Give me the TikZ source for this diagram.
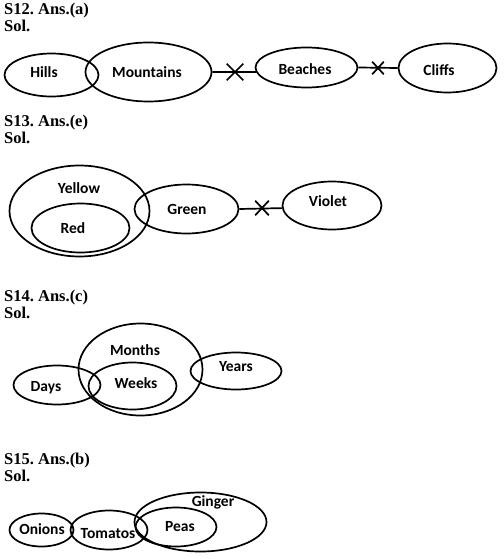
\documentclass[tikz,border=0pt]{standalone}
\usepackage{fontspec}
\setmainfont{Liberation Serif}
\newfontfamily\lblfont{Carlito}
\usetikzlibrary{shapes.geometric,shapes.misc}
\frenchspacing
\begin{document}
\begin{tikzpicture}[x=1pt,y=-1pt,
  ell/.style={draw, ellipse, line width=1.7pt, inner sep=0pt},
  lab/.style={font=\lblfont\bfseries\fontsize{15.5}{17}\selectfont, inner sep=0pt},
  head/.style={font=\bfseries\fontsize{16.5}{18}\selectfont, anchor=base west, inner sep=0pt},
  xm/.style={draw, cross out, line width=1.7pt, inner sep=0pt},
  conn/.style={line width=1.7pt}]
\useasboundingbox (0,0) rectangle (503,559);

% ---------- S12 ----------
\node[head] (h12) at (4,14.5) {S12. Ans.(a)};
\node[head] (s12) at (4,31.5) {Sol.};
\node[ell, minimum width=94pt, minimum height=43pt] (hills) at (51.5,75) {};
\node[ell, minimum width=126pt, minimum height=59pt] (mountains) at (148.5,72) {};
\node[ell, minimum width=102pt, minimum height=40pt] (beaches) at (306.5,67.5) {};
\node[ell, minimum width=98pt, minimum height=49pt] (cliffs) at (447.5,68) {};
\node[lab] (lhills) at (44,72) {Hills};
\node[lab] (lmount) at (147,72) {Mountains};
\node[lab] (lbeach) at (305,69) {Beaches};
\node[lab] (lcliff) at (439,70) {Cliffs};
\draw[conn] (mountains.east) -- (beaches.185);
\draw[conn] (beaches.east) -- (cliffs.west);
\node[xm, minimum width=15pt, minimum height=15pt] (x1) at (235,72) {};
\node[xm, minimum width=10pt, minimum height=11pt] (x2) at (378,68) {};

% ---------- S13 ----------
\node[head] (h13) at (4,126) {S13. Ans.(e)};
\node[head] (s13) at (4,143) {Sol.};
\node[ell, minimum width=140pt, minimum height=91pt] (yellow) at (79.5,211) {};
\node[ell, minimum width=98pt, minimum height=49pt] (red) at (80.5,228) {};
\node[ell, minimum width=104pt, minimum height=49pt] (green) at (186.5,209) {};
\node[ell, minimum width=99pt, minimum height=48pt] (violet) at (332,205.5) {};
\node[lab] (lyellow) at (79,188) {Yellow};
\node[lab] (lred) at (73,228) {Red};
\node[lab] (lgreen) at (187,209) {Green};
\node[lab] (lviolet) at (328,201) {Violet};
\draw[conn] (green.east) -- (violet.183);
\node[xm, minimum width=12pt, minimum height=13pt] (x3) at (262,208) {};

% ---------- S14 ----------
\node[head] (h14) at (4,301.5) {S14. Ans.(c)};
\node[head] (s14) at (4,318) {Sol.};
\node[ell, minimum width=124pt, minimum height=92pt] (months) at (140.5,369.5) {};
\node[ell, minimum width=87pt, minimum height=39pt] (days) at (57,385) {};
\node[ell, minimum width=88pt, minimum height=47pt] (weeks) at (132.5,386) {};
\node[ell, minimum width=91pt, minimum height=37pt] (years) at (236,371) {};
\node[lab] (lmonths) at (135,350) {Months};
\node[lab] (ldays) at (46,388) {Days};
\node[lab] (lweeks) at (136,383) {Weeks};
\node[lab] (lyears) at (236,367) {Years};

% ---------- S15 ----------
\node[head] (h15) at (4,464.3) {S15. Ans.(b)};
\node[head] (s15) at (4,481) {Sol.};
\node[ell, minimum width=64pt, minimum height=33pt] (onions) at (41.5,530) {};
\node[ell, minimum width=77pt, minimum height=39pt] (tomatos) at (109,530) {};
\node[ell, minimum width=132pt, minimum height=59pt] (ginger) at (200.5,522) {};
\node[ell, minimum width=81pt, minimum height=39pt] (peas) at (176,527) {};
\node[lab] (lonions) at (42,529) {Onions};
\node[lab] (ltomatos) at (108,534) {Tomatos};
\node[lab] (lpeas) at (180,527) {Peas};
\node[lab] (lginger) at (213,502) {Ginger};
\end{tikzpicture}
\end{document}
